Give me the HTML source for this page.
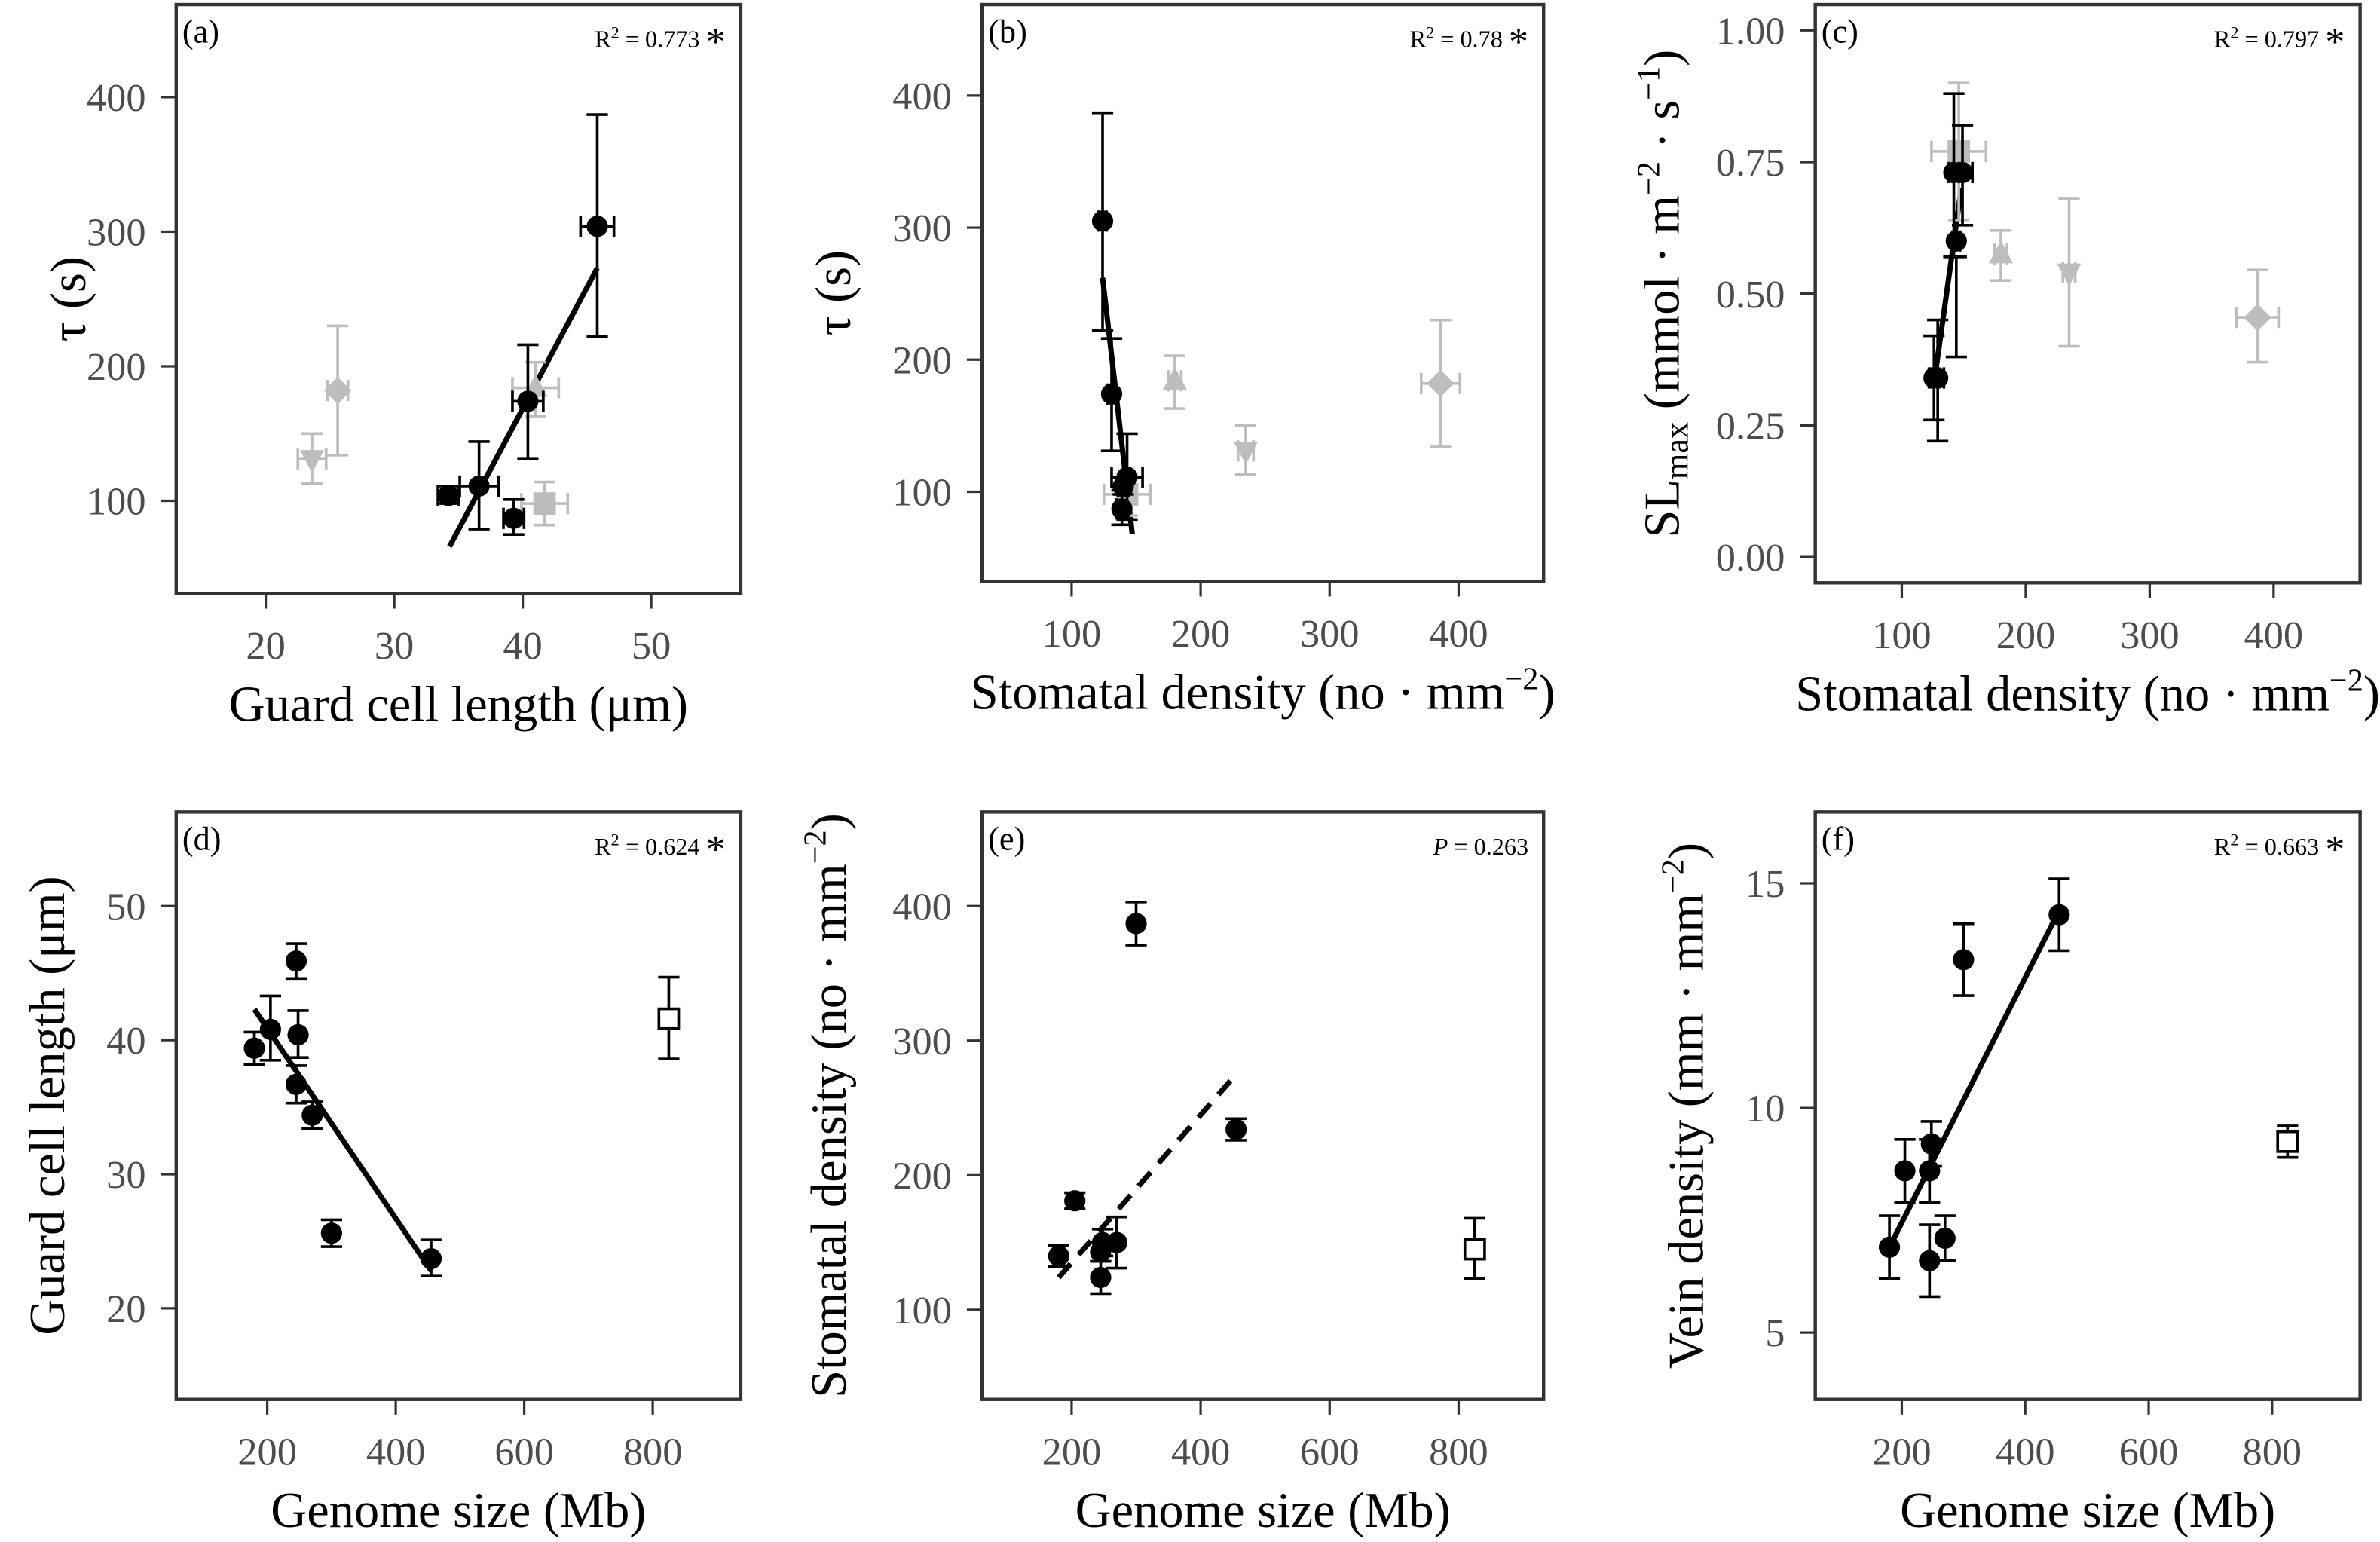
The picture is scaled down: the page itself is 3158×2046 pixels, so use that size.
<!DOCTYPE html>
<html><head><meta charset="utf-8"><style>
html,body{margin:0;padding:0;background:#fff}
svg{display:block}
svg text{font-family:"Liberation Serif",serif}
.tick{fill:#4d4d4d;font-size:26px}
.title{fill:#000;font-size:33px}
.ann{font-size:16px;fill:#000}
.lab{font-size:22px;fill:#000}
</style></head><body>
<svg id="fig" width="3158" height="2046" viewBox="0 0 1568 1016" font-family="Liberation Serif, serif" xmlns="http://www.w3.org/2000/svg"></svg>
<script>
// ---- data (x, y, x-error, y-low, y-high, marker) ----
const aX=[45.8,40.4,36.6,34.2,39.3], aY=[304,174,111,104,87], aXe=[1.3,1.2,1.5,0.8,0.8], aLo=[222,131,79,98,75], aHi=[387,216,144,111,101];
const aGX=[25.6,23.6,41,41.7], aGY=[182,131,184,98], aGXe=[0.8,1.1,1.8,1.8], aGLo=[134,113,163,82], aGHi=[230,150,203,114], aGM=['diamond','down','up','square'];
const aFit=[[34.3,66],[45.8,273]];
const bX=[124,131,143,140,139], bY=[305,174,111,104,87], bXe=[3,3,12,4,4], bLo=[222,131,79,98,75], bHi=[387,216,144,111,101];
const bGX=[180,235,386,143], bGY=[184,131,182,98], bGXe=[5,6,15,18], bGLo=[163,113,134,82], bGHi=[203,150,230,114], bGM=['up','down','diamond','square'];
const bFit=[[124,262],[147,68]];
const cX=[126,129,142,149,144], cY=[0.34,0.34,0.73,0.73,0.60], cXe=[4,5,4,8,3], cLo=[0.26,0.22,0.57,0.63,0.38], cHi=[0.42,0.45,0.88,0.82,0.57];
const cGX=[146,180,235,387], cGY=[0.77,0.575,0.54,0.455], cGXe=[22,5,5,17], cGLo=[0.64,0.525,0.40,0.37], cGHi=[0.90,0.62,0.68,0.545], cGM=['square','up','down','diamond'];
const cFit=[[126,0.33],[148,0.70]];
const genome=[180,205,245,248,245,270,300,455];
const dY=[39.4,40.8,45.9,40.4,36.7,34.4,25.6,23.7], dLo=[38.2,38.5,44.6,38.7,35.3,33.4,24.6,22.4], dHi=[40.6,43.3,47.2,42.2,38.1,35.4,26.6,25.1];
const eY=[140,181,143,150,124,150,387,234], eLo=[132,175,136,140,112,131,371,226], eHi=[148,187,150,160,136,169,403,242];
const fY=[6.9,8.6,8.6,9.2,6.6,7.1,13.3,14.3], fLo=[6.2,7.9,7.9,8.7,5.8,6.6,12.5,13.5], fHi=[7.6,9.3,9.3,9.7,7.4,7.6,14.1,15.1];
const oX=[825], dO=[41.6], dOLo=[38.6], dOHi=[44.7], eO=[145], eOLo=[123], eOHi=[168], fO=[9.25], fOLo=[8.9], fOHi=[9.6];
const dFit=[[180,42.3],[455,22.8]], eFit=[[180,124],[455,275]], fFit=[[180,6.9],[455,14.4]];

const NS='http://www.w3.org/2000/svg', svg=document.getElementById('fig');
function el(t,a,p){const e=document.createElementNS(NS,t);for(const k in a)e.setAttribute(k,a[k]);(p||svg).appendChild(e);return e;}
function lin(d0,d1,r0,r1){return v=>r0+(v-d0)*(r1-r0)/(d1-d0);}

function panel(o){
  const g=el('g',{});
  
  
  const sx=lin(o.xd[0],o.xd[1],o.xr[0],o.xr[1]), sy=lin(o.yd[0],o.yd[1],o.yr[0],o.yr[1]);
  const b=o.box;
  const fr=el('rect',{x:b[0],y:b[1],width:b[2]-b[0],height:b[3]-b[1],fill:'none',stroke:'#333',"stroke-width":2.2},g);
  
  o.xt.forEach(v=>{const x=sx(v);el('line',{x1:x,x2:x,y1:b[3],y2:b[3]+10,stroke:'#333','stroke-width':1.6},g);
    const t=el('text',{x:x,y:b[3]+43,'text-anchor':'middle',class:'tick'},g);t.textContent=v;
    });
  o.yt.forEach((v,i)=>{const y=sy(v);el('line',{x1:b[0]-10,x2:b[0],y1:y,y2:y,stroke:'#333','stroke-width':1.6},g);
    const t=el('text',{x:b[0]-20,y:y+9,'text-anchor':'end',class:'tick'},g);t.textContent=o.ytl?o.ytl[i]:v;
    });
  const xt=el('text',{x:(b[0]+b[2])/2,y:b[3]+84,'text-anchor':'middle',class:'title'},g);xt.innerHTML=o.xtitle;
  
  const yt=el('text',{x:0,y:0,'text-anchor':'middle',class:'title',transform:`translate(${o.ytx},${(b[1]+b[3])/2}) rotate(-90)`},g);yt.innerHTML=o.ytitle;
  
  const lb=el('text',{x:b[0]+4,y:b[1]+25,class:'lab'},g);lb.textContent=o.label;
  
  const an=el('text',{x:b[2]-10,y:b[1]+28,'text-anchor':'end',class:'ann'},g);an.innerHTML=o.ann;
  
  const f=o.fit;const fl=el('line',{x1:sx(f[0][0]),y1:sy(f[0][1]),x2:sx(f[1][0]),y2:sy(f[1][1]),stroke:'#000','stroke-width':3.5,'stroke-dasharray':o.dash?'12 8':'none'},g);
  
  function pts(X,Y,Xe,Lo,Hi,M,col,fill,nm){
    X.forEach((xv,i)=>{const x=sx(xv),y=sy(Y[i]);const c=7;
      const pg=el('g',{stroke:col,'stroke-width':1.8},g);
      
      el('line',{x1:x,x2:x,y1:sy(Lo[i]),y2:sy(Hi[i])},pg);
      el('line',{x1:x-c,x2:x+c,y1:sy(Lo[i]),y2:sy(Lo[i])},pg);
      el('line',{x1:x-c,x2:x+c,y1:sy(Hi[i]),y2:sy(Hi[i])},pg);
      if(Xe){const x0=sx(xv-Xe[i]),x1=sx(xv+Xe[i]);el('line',{x1:x0,x2:x1,y1:y,y2:y},pg);
        el('line',{x1:x0,x2:x0,y1:y-c,y2:y+c},pg);el('line',{x1:x1,x2:x1,y1:y-c,y2:y+c},pg);}
      const m=M?M[i]:'circle';
      if(m==='circle')el('circle',{cx:x,cy:y,r:7,fill:col,stroke:'none'},pg);
      else if(m==='square')el('rect',{x:x-6.5,y:y-6.5,width:13,height:13,fill:fill,stroke:col,'stroke-width':1.8},pg);
      else if(m==='diamond')el('polygon',{points:`${x},${y-9} ${x+9},${y} ${x},${y+9} ${x-9},${y}`,fill:col,stroke:'none'},pg);
      else if(m==='up')el('polygon',{points:`${x},${y-9} ${x+8},${y+6} ${x-8},${y+6}`,fill:col,stroke:'none'},pg);
      else if(m==='down')el('polygon',{points:`${x},${y+9} ${x+8},${y-6} ${x-8},${y-6}`,fill:col,stroke:'none'},pg);
    });
  }
  if(o.g)pts(o.g[0],o.g[1],o.g[2],o.g[3],o.g[4],o.g[5],'#bdbdbd','#bdbdbd','grey-point');
  if(o.open)pts(o.open[0],o.open[1],null,o.open[2],o.open[3],['square'],'#000','#fff','outlier-point');
  pts(o.k[0],o.k[1],o.k[2],o.k[3],o.k[4],null,'#000','#000','data-point');
}
const SD='Stomatal density (no · mm<tspan dy="-13" font-size="21">−2</tspan><tspan dy="13">)</tspan>';
const star=' <tspan font-size="26" dy="5">*</tspan>';
panel({name:'panel-a',box:[116,3,488,391],xd:[20,50],xr:[175,429],yd:[100,400],yr:[330,64],xt:[20,30,40,50],yt:[100,200,300,400],
  xtitle:'Guard cell length (μm)',ytitle:'τ  (s)',ytx:56,label:'(a)',ann:'R<tspan dy="-6" font-size="11">2</tspan><tspan dy="6"> = 0.773</tspan>'+star,
  fit:aFit,k:[aX,aY,aXe,aLo,aHi],g:[aGX,aGY,aGXe,aGLo,aGHi,aGM]});
panel({name:'panel-b',box:[647,3,1017,383],xd:[100,400],xr:[706,961],yd:[100,400],yr:[324,63],xt:[100,200,300,400],yt:[100,200,300,400],
  xtitle:SD,ytitle:'τ  (s)',ytx:560,label:'(b)',ann:'R<tspan dy="-6" font-size="11">2</tspan><tspan dy="6"> = 0.78</tspan>'+star,
  fit:bFit,k:[bX,bY,bXe,bLo,bHi],g:[bGX,bGY,bGXe,bGLo,bGHi,bGM]});
panel({name:'panel-c',box:[1196,3,1555,384],xd:[100,400],xr:[1253,1498],yd:[0,1],yr:[367,20],xt:[100,200,300,400],yt:[0,0.25,0.5,0.75,1],ytl:['0.00','0.25','0.50','0.75','1.00'],
  xtitle:SD,ytitle:'SL<tspan font-size="22" dy="6">max</tspan><tspan dy="-6">  (mmol · m</tspan><tspan dy="-13" font-size="21">−2</tspan><tspan dy="13"> · s</tspan><tspan dy="-13" font-size="21">−1</tspan><tspan dy="13">)</tspan>',ytx:1106,label:'(c)',ann:'R<tspan dy="-6" font-size="11">2</tspan><tspan dy="6"> = 0.797</tspan>'+star,
  fit:cFit,k:[cX,cY,cXe,cLo,cHi],g:[cGX,cGY,cGXe,cGLo,cGHi,cGM]});
panel({name:'panel-d',box:[116,535,488,922],xd:[200,800],xr:[176,430],yd:[20,50],yr:[862,597],xt:[200,400,600,800],yt:[20,30,40,50],
  xtitle:'Genome size (Mb)',ytitle:'Guard cell length (μm)',ytx:42,label:'(d)',ann:'R<tspan dy="-6" font-size="11">2</tspan><tspan dy="6"> = 0.624</tspan>'+star,
  fit:dFit,k:[genome,dY,null,dLo,dHi],open:[oX,dO,dOLo,dOHi]});
panel({name:'panel-e',box:[647,535,1017,922],xd:[200,800],xr:[706,961],yd:[100,400],yr:[863,597],xt:[200,400,600,800],yt:[100,200,300,400],
  xtitle:'Genome size (Mb)',ytitle:'Stomatal density  (no · mm<tspan dy="-13" font-size="21">−2</tspan><tspan dy="13">)</tspan>',ytx:557,label:'(e)',ann:'<tspan font-style="italic">P</tspan> = 0.263',dash:true,
  fit:eFit,k:[genome,eY,null,eLo,eHi],open:[oX,eO,eOLo,eOHi]});
panel({name:'panel-f',box:[1196,535,1555,922],xd:[200,800],xr:[1253,1497],yd:[5,15],yr:[878,582],xt:[200,400,600,800],yt:[5,10,15],
  xtitle:'Genome size (Mb)',ytitle:'Vein density  (mm · mm<tspan dy="-13" font-size="21">−2</tspan><tspan dy="13">)</tspan>',ytx:1122,label:'(f)',ann:'R<tspan dy="-6" font-size="11">2</tspan><tspan dy="6"> = 0.663</tspan>'+star,
  fit:fFit,k:[genome,fY,null,fLo,fHi],open:[oX,fO,fOLo,fOHi]});
</script>
</body></html>
